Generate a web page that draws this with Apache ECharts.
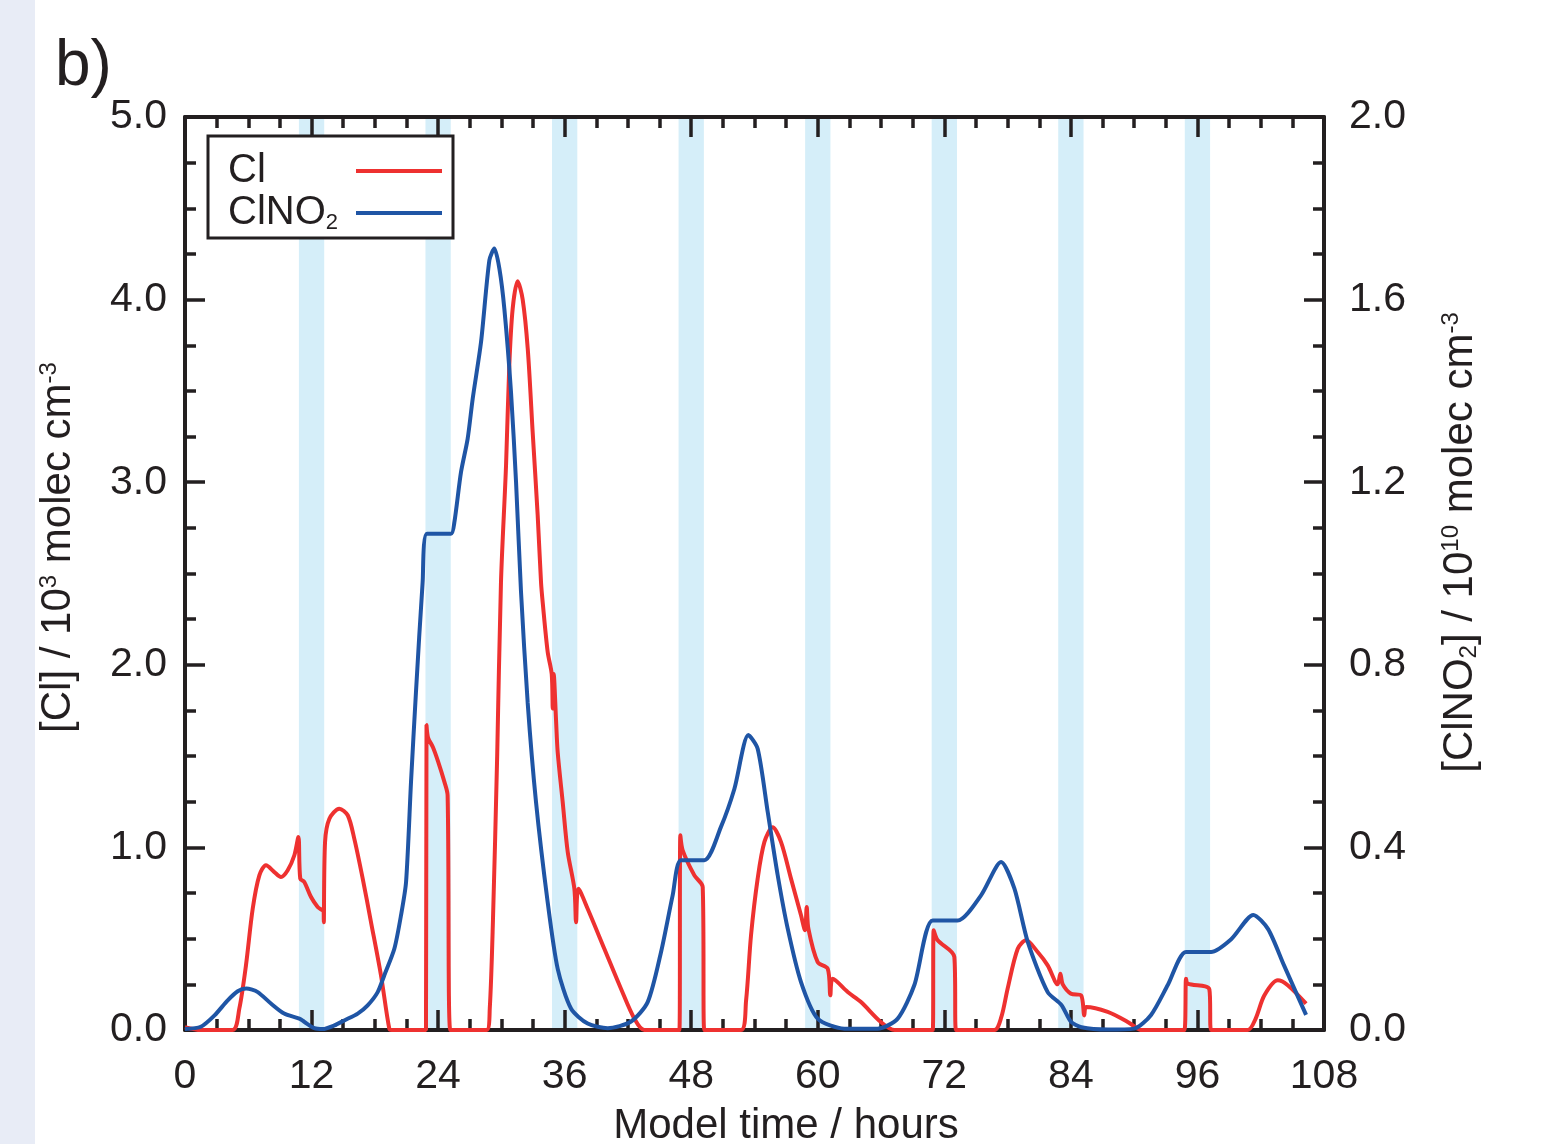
<!DOCTYPE html>
<html><head><meta charset="utf-8">
<script src="https://cdn.jsdelivr.net/npm/echarts/dist/echarts.min.js"></script>
<style>html,body{margin:0;padding:0;background:#fff}#c{width:1560px;height:1144px}</style>
</head><body><div id="c"></div>
<script>
// ---- data ----
const clTime = [0, 1.5, 4.52, 5.15, 5.78, 6.42, 7.05, 7.68, 8.47, 9.10, 9.74, 10.37, 10.75, 10.93, 11.31, 11.95, 12.58, 13.15, 13.16, 13.28, 13.69, 14.63, 15.43, 16.05, 16.85, 17.64, 18.58, 19.37, 19.6,
  22.85, 22.9, 23.05, 23.5, 24.0, 24.59, 24.9, 25.16,
  28.6, 28.9, 29.2, 29.6, 29.96, 30.44, 30.75, 31.07, 31.54, 32.02, 32.5, 32.97, 33.44, 33.76, 33.92, 34.39, 34.77, 34.87, 34.96, 35.18, 35.34, 35.81, 36.29, 36.92, 37.08, 37.30, 38.18, 39.76, 41.34, 42.61, 43.56,
  46.88, 46.97, 47.19, 48.30, 49.09, 49.24,
  52.72, 53.2, 53.67, 54.30, 54.94, 55.72, 56.51, 57.46, 58.41, 58.79, 58.95, 59.11, 59.99, 60.94, 61.19, 61.41, 62.84, 64.1, 65.98, 67.3,
  70.9, 70.99, 71.37, 72.95, 73.11,
  76.74, 77.4, 78.0, 78.96, 79.75, 80.85, 81.80, 82.75, 83.0, 83.23, 84.01, 84.96, 85.27, 85.44, 87.49, 89.39, 90.34, 90.6,
  94.76, 94.92, 95.08, 97.13, 97.29,
  100.77, 101.5, 102.35, 103.62, 104.56, 106.3];
const clValue = [0.015, 0, 0, 0.117, 0.354, 0.664, 0.847, 0.902, 0.865, 0.838, 0.875, 0.957, 1.057, 0.829, 0.811, 0.728, 0.674, 0.646, 0.59, 1.03, 1.157, 1.212, 1.176, 1.048, 0.829, 0.59, 0.30, 0.007, 0,
  0, 1.67, 1.60, 1.55, 1.47, 1.36, 1.285, 0,
  0, 0.12, 0.6, 1.5, 2.45, 3.09, 3.64, 3.95, 4.10, 4.0, 3.73, 3.27, 2.82, 2.45, 2.34, 2.07, 1.95, 1.76, 1.95, 1.70, 1.52, 1.25, 0.975, 0.774, 0.59, 0.774, 0.664, 0.445, 0.226, 0.062, 0,
  0, 1.066, 0.984, 0.847, 0.783, 0,
  0, 0.16, 0.518, 0.829, 1.03, 1.11, 1.03, 0.829, 0.628, 0.546, 0.674, 0.555, 0.372, 0.336, 0.19, 0.28, 0.208, 0.153, 0.044, 0,
  0, 0.546, 0.491, 0.40, 0,
  0, 0.07, 0.226, 0.445, 0.491, 0.427, 0.354, 0.25, 0.308, 0.25, 0.199, 0.19, 0.08, 0.126, 0.099, 0.044, 0.007, 0,
  0, 0.281, 0.254, 0.223, 0,
  0, 0.06, 0.19, 0.272, 0.245, 0.144];

const clno2Time = [0, 1.5, 2.8, 4.05, 5.0, 5.8, 6.9, 8.15, 9.4, 10.84, 11.3, 12.26, 13.06, 14.16, 15.1, 16.38, 17.32, 18.27, 18.9, 19.85, 20.48, 20.96, 21.43, 21.9, 22.53, 22.95,
  25.22, 25.54, 26.17, 26.8, 27.28, 28.07, 28.86, 29.33, 29.81, 30.28, 30.91, 31.39, 31.86, 32.49, 33.28, 34.39, 35.34, 36.6, 38.18, 40.08, 42.26, 43.87, 45.14, 46.24, 47.03,
  49.24, 50.82, 52.09, 53.42, 54.3, 55.25, 56.2, 57.15, 58.41, 59.99, 62.52, 65.68, 67.58, 69.15, 70.9,
  73.27, 75.48, 77.38, 78.64, 79.91, 81.8, 83.1, 84.01, 85.0, 87.5, 90.0, 91.6, 93.2, 94.92,
  97.29, 99.2, 101.3, 102.7, 104.2, 106.3];
const clno2Value = [0.002, 0.007, 0.032, 0.065, 0.085, 0.091, 0.083, 0.058, 0.036, 0.025, 0.018, 0.004, 0.002, 0.010, 0.021, 0.036, 0.054, 0.083, 0.12, 0.178, 0.251, 0.324, 0.543, 0.74, 0.98, 1.087,
  1.087, 1.112, 1.222, 1.295, 1.383, 1.507, 1.686, 1.712, 1.668, 1.58, 1.398, 1.2, 0.96, 0.718, 0.50, 0.28, 0.134, 0.047, 0.014, 0.004, 0.018, 0.061, 0.171, 0.295, 0.372,
  0.372, 0.445, 0.528, 0.646, 0.616, 0.478, 0.339, 0.222, 0.105, 0.025, 0.003, 0.003, 0.025, 0.098, 0.24,
  0.24, 0.295, 0.368, 0.31, 0.193, 0.083, 0.055, 0.018, 0.006, 0.001, 0.003, 0.033, 0.099, 0.171,
  0.171, 0.199, 0.252, 0.221, 0.142, 0.033];

const bandStart = [10.8, 22.8, 34.8, 46.8, 58.8, 70.8, 82.8, 94.8];
const bandEnd   = [13.2, 25.2, 37.2, 49.2, 61.2, 73.2, 85.2, 97.2];

const seriesNames = ['Cl', 'ClNO2'];

// ---- styling ----
const FONT = '"Liberation Sans", Arial, Helvetica, sans-serif';
const INK = '#231f20';
const RED = '#ee3130';
const BLUE = '#1f55a5';
const BAND = '#d5eef9';

const clData = clTime.map((t, i) => [t, clValue[i]]);
const clno2Data = clno2Time.map((t, i) => [t, clno2Value[i]]);
const bandData = bandStart.map((s, i) => [{ xAxis: s }, { xAxis: bandEnd[i] }]);

function axisStyle(extra) {
  return Object.assign({
    axisLine: { show: true, onZero: false, lineStyle: { color: INK, width: 4 } },
    axisTick: { show: true, inside: true, length: 20, lineStyle: { color: INK, width: 3.5 } },
    minorTick: { show: true, splitNumber: 4, length: 11, lineStyle: { color: INK, width: 3.5 } },
    splitLine: { show: false },
    minorSplitLine: { show: false },
    z: 1.5
  }, extra);
}

const chart = echarts.init(document.getElementById('c'), null, { renderer: 'canvas' });
chart.setOption({
  animation: false,
  backgroundColor: '#ffffff',
  textStyle: { fontFamily: FONT },
  graphic: [
    { type: 'rect', left: 0, top: 0, shape: { width: 35, height: 1144 }, style: { fill: '#e8ecf6' }, z: 0 },
    { type: 'text', left: 55, top: 35, style: { text: 'b)', fontSize: 64, fill: INK, fontFamily: FONT } }
  ],
  grid: { left: 185, right: 236, top: 117, bottom: 114, outerBoundsMode: 'none', containLabel: false },
  legend: {
    left: 208, top: 136, orient: 'vertical', align: 'right',
    padding: [14, 11, 4, 20], itemGap: 0, itemWidth: 86, itemHeight: 4,
    icon: 'rect', borderColor: INK, borderWidth: 3, backgroundColor: '#ffffff',
    selectedMode: false,
    data: seriesNames,
    formatter: n => n === 'ClNO2' ? '{n|ClNO}{sub|2}' : '{n|' + n + '}',
    textStyle: {
      fontSize: 40, color: INK, fontFamily: FONT, width: 123, lineHeight: 42,
      rich: {
        n: { fontSize: 40, color: INK, fontFamily: FONT, align: 'left', lineHeight: 42 },
        sub: { fontSize: 22, color: INK, fontFamily: FONT, align: 'left', lineHeight: 22, verticalAlign: 'bottom' }
      }
    }
  },
  xAxis: [
    axisStyle({
      type: 'value', min: 0, max: 108, interval: 12, position: 'bottom',
      name: 'Model time / hours', nameLocation: 'middle', nameGap: 75,
      nameTextStyle: { fontSize: 42, color: INK, fontFamily: FONT, padding: [0, 0, 0, 63] },
      axisLabel: { fontSize: 41, color: INK, margin: 26, fontFamily: FONT }
    }),
    axisStyle({
      type: 'value', min: 0, max: 108, interval: 12, position: 'top',
      axisLabel: { show: false }
    })
  ],
  yAxis: [
    axisStyle({
      type: 'value', min: 0, max: 5, interval: 1, position: 'left',
      name: '[Cl] / 10{sup|3} molec cm{sup|-3}', nameLocation: 'middle', nameGap: 106, nameRotate: 90,
      nameTextStyle: { fontSize: 42, color: INK, fontFamily: FONT, padding: [0, 0, 0, 52],
        rich: { sup: { fontSize: 24, color: INK, fontFamily: FONT, verticalAlign: 'top', lineHeight: 24 } } },
      axisLabel: { fontSize: 41, color: INK, margin: 18, fontFamily: FONT, formatter: v => v.toFixed(1) }
    }),
    axisStyle({
      type: 'value', min: 0, max: 2, interval: 0.4, position: 'right',
      name: '[ClNO{sub|2}] / 10{sup|10} molec cm{sup|-3}', nameLocation: 'middle', nameGap: 115, nameRotate: 90,
      nameTextStyle: { fontSize: 42, color: INK, fontFamily: FONT, padding: [0, 0, 0, 62],
        rich: {
          sup: { fontSize: 24, color: INK, fontFamily: FONT, verticalAlign: 'top', lineHeight: 24 },
          sub: { fontSize: 24, color: INK, fontFamily: FONT, verticalAlign: 'bottom', lineHeight: 24 }
        } },
      axisLabel: { fontSize: 41, color: INK, margin: 25, fontFamily: FONT, formatter: v => v.toFixed(1) }
    })
  ],
  series: [
    {
      name: 'bands', type: 'line', data: [], z: 1, silent: true,
      xAxisIndex: 0, yAxisIndex: 0,
      markArea: { silent: true, itemStyle: { color: BAND, borderWidth: 0 }, data: bandData }
    },
    {
      name: 'Cl', type: 'line', data: clData, xAxisIndex: 0, yAxisIndex: 0,
      showSymbol: false, symbol: 'none', z: 2, smooth: 0.3,
      lineStyle: { color: RED, width: 4 }, itemStyle: { color: RED }
    },
    {
      name: 'ClNO2', type: 'line', data: clno2Data, xAxisIndex: 0, yAxisIndex: 1,
      showSymbol: false, symbol: 'none', z: 2, smooth: 0.25,
      lineStyle: { color: BLUE, width: 4 }, itemStyle: { color: BLUE }
    }
  ]
});
</script>
</body></html>
